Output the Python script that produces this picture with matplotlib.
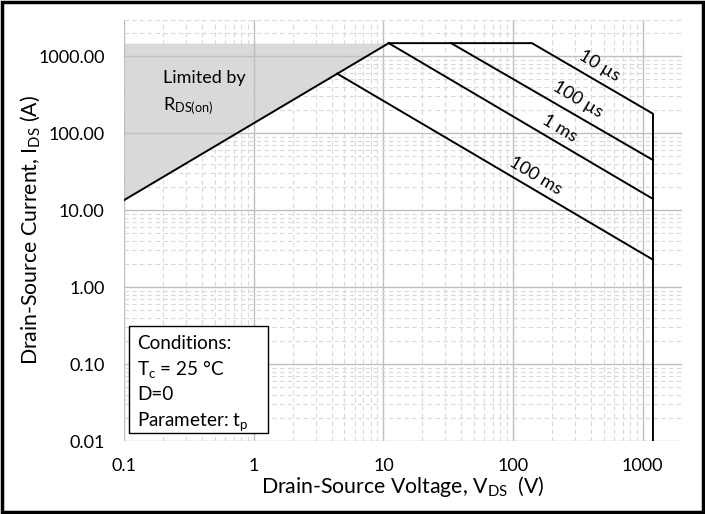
import numpy as np
import matplotlib
matplotlib.use('Agg')
import matplotlib.pyplot as plt
from matplotlib.ticker import LogLocator, FixedLocator, NullFormatter
from matplotlib.patches import Rectangle

plt.rcParams['font.family'] = ['Lato', 'DejaVu Sans']
plt.rcParams['mathtext.fontset'] = 'custom'
plt.rcParams['mathtext.rm'] = 'Lato'
plt.rcParams['mathtext.it'] = 'Lato:italic'

# Donnees (SOA)
rds_v = [0.1, 11.0]
rds_i = [13.5, 1480]

env_v = [11.0, 140, 1200, 1200]      # enveloppe 10 us
env_i = [1480, 1480, 179, 0.01]

us100_v = [33.3, 1200]
us100_i = [1480, 44.8]

ms1_v = [11.0, 1200]
ms1_i = [1480, 14.0]

ms100_v = [4.4, 1200]
ms100_i = [595, 2.27]

labels = ['10 µs', '100 µs', '1 ms', '100 ms']
label_v = [467, 316, 230, 148]
label_i = [743, 278, 114, 28]

x_ticks = [0.1, 1, 10, 100, 1000]
x_ticklabels = ['0.1', '1', '10', '100', '1000']
y_ticks = [0.01, 0.1, 1, 10, 100, 1000]
y_ticklabels = ['0.01', '0.10', '1.00', '10.00', '100.00', '1000.00']

conditions = ['Conditions:', r'T$_{\mathregular{c}}$ = 25 °C', 'D=0',
              r'Parameter: t$_{\mathregular{p}}$']

fig = plt.figure(figsize=(7.05, 5.14), dpi=100)
ax = fig.add_axes([0.176, 0.142, 0.791, 0.820])
ax.set_xscale('log')
ax.set_yscale('log')
ax.set_xlim(0.1, 2000)
ax.set_ylim(0.01, 3000)

# zone limitee par RDS(on)
ax.fill_between(rds_v, rds_i, [rds_i[-1], rds_i[-1]], color='#d9d9d9', lw=0, zorder=0.3)

lw = 1.4
ax.plot(rds_v, rds_i, color='black', lw=lw)
ax.plot(env_v, env_i, color='black', lw=lw)
ax.plot(us100_v, us100_i, color='black', lw=lw)
ax.plot(ms1_v, ms1_i, color='black', lw=lw)
ax.plot(ms100_v, ms100_i, color='black', lw=lw)

for txt, xv, yv in zip(labels, label_v, label_i):
    ax.text(xv, yv, txt, rotation=-31, ha='center', va='center',
            rotation_mode='anchor', fontsize=13)

ax.text(0.2, 520, 'Limited by', fontsize=13, ha='left', va='center')
ax.text(0.2, 225, r'R$_{\mathregular{DS(on)}}$', fontsize=13, ha='left', va='center')

# grille
ax.set_axisbelow(True)
ax.xaxis.set_major_locator(FixedLocator(x_ticks))
ax.yaxis.set_major_locator(FixedLocator(y_ticks))
ax.xaxis.set_minor_locator(LogLocator(base=10, subs=np.arange(2, 10), numticks=20))
ax.yaxis.set_minor_locator(LogLocator(base=10, subs=np.arange(2, 10), numticks=20))
ax.xaxis.set_minor_formatter(NullFormatter())
ax.yaxis.set_minor_formatter(NullFormatter())
ax.set_xticklabels(x_ticklabels)
ax.set_yticklabels(y_ticklabels)
ax.grid(which='major', color='#bfbfbf', lw=1.0, ls='-')
ax.grid(which='minor', color='#d9d9d9', lw=0.8, ls=(0, (4, 3)))
ax.tick_params(which='both', length=0, labelsize=13)
ax.tick_params(axis='x', pad=12)
ax.tick_params(axis='y', pad=14)
for s in ax.spines.values():
    s.set_visible(False)

ax.set_xlabel(r'Drain-Source Voltage, V$_{\mathregular{DS}}$  (V)', fontsize=15.3, labelpad=0)
ax.set_ylabel(r'Drain-Source Current, I$_{\mathregular{DS}}$ (A)', fontsize=15.3, labelpad=-3)

# cadre des conditions
ax.add_patch(Rectangle((0.009, 0.019), 0.249, 0.254, transform=ax.transAxes,
                       fc='white', ec='black', lw=1.0, zorder=3))
for k, line in enumerate(conditions):
    ax.text(0.023, 0.218 - k * 0.0605, line, transform=ax.transAxes,
            fontsize=13.6, ha='left', va='baseline', zorder=4)

# bordure exterieure
fig.patches.append(Rectangle((0.003, 0.004), 0.994, 0.992, transform=fig.transFigure,
                             fill=False, ec='black', lw=2.5))

fig.savefig('out.png', dpi=100)
